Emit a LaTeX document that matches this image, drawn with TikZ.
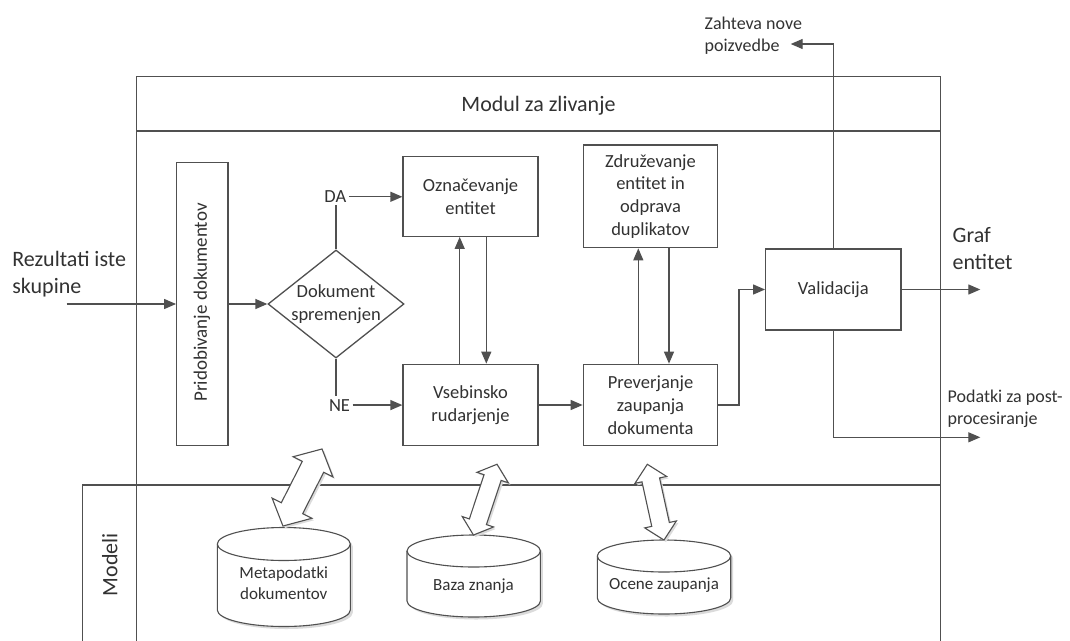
\documentclass[tikz,border=0pt]{standalone}
\usepackage{fontspec}
\setmainfont{Carlito}
\usetikzlibrary{arrows.meta,shapes.geometric,calc}
\definecolor{ln}{RGB}{80,80,80}
\definecolor{tx}{RGB}{50,50,50}
\newcommand\fsA{\fontsize{22}{27}\selectfont}
\newcommand\fsB{\fontsize{18.5}{22.7}\selectfont}
\newcommand\fsC{\fontsize{17}{20.5}\selectfont}
\newcommand\fsD{\fontsize{18}{22}\selectfont}
\newcommand\fsP{\fontsize{19}{23}\selectfont}
% block double arrow: x, y, angle, half length, half head width, half shaft width, head length
\newcommand\dblarr[7]{%
  \begin{scope}[shift={(#1+2,#2+2)}, rotate=#3]
    \fill[black!14] (-#4,0) -- (-#4+#7,#5) -- (-#4+#7,#6) -- (#4-#7,#6) -- (#4-#7,#5) -- (#4,0) -- (#4-#7,-#5) -- (#4-#7,-#6) -- (-#4+#7,-#6) -- (-#4+#7,-#5) -- cycle;
  \end{scope}
  \begin{scope}[shift={(#1,#2)}, rotate=#3]
    \draw[fill=white, line width=1.1pt, line join=miter] (-#4,0) -- (-#4+#7,#5) -- (-#4+#7,#6) -- (#4-#7,#6) -- (#4-#7,#5) -- (#4,0) -- (#4-#7,-#5) -- (#4-#7,-#6) -- (-#4+#7,-#6) -- (-#4+#7,-#5) -- cycle;
  \end{scope}}
% cylinder: cx, top ellipse centre y, bottom ellipse centre y, rx, ry
\newcommand\cylndr[5]{%
  \fill[black!14] (#1-#4+2.5,#2+2.5) -- (#1-#4+2.5,#3+2.5) arc (180:360:#4pt and #5pt) -- (#1+#4+2.5,#2+2.5) arc (0:180:#4pt and #5pt) -- cycle;
  \draw[fill=white, line width=1.1pt] (#1-#4,#2) -- (#1-#4,#3) arc (180:360:#4pt and #5pt) -- (#1+#4,#2) arc (0:180:#4pt and #5pt) -- cycle;
  \draw[line width=1.1pt] (#1-#4,#2) arc (180:360:#4pt and #5pt);}
\begin{document}
\begin{tikzpicture}[x=1pt,y=-1pt,line width=1.3pt,color=ln,text=tx,
  box/.style={draw, rectangle, fill=white, inner sep=0pt, align=center, font=\fsB},
  arr/.style={-{Triangle[length=12pt,width=10pt]}}]
\useasboundingbox[fill=white] (0,0) rectangle (1070,640);

% swimlane frames
\draw (136.7,641) -- (136.7,76.7) -- (940.3,76.7) -- (940.3,641);
\draw (136.7,131) -- (940.3,131);
\draw (82.7,641) -- (82.7,485) -- (940.3,485);
\node[font=\fsA, anchor=base, inner sep=0pt] (modul) at (538.5,111) {Modul za zlivanje};
\node[font=\fsA, rotate=90, inner sep=0pt] (modeli) at (109.7,564.5) {Modeli};

% process nodes
\node[box, minimum width=51.3pt, minimum height=283.4pt] (pri) at (202.35,304) {};
\node[font=\fsP, rotate=90, inner sep=0pt] (pritxt) at (202,302.5) {Pridobivanje dokumentov};
\node[diamond, draw, fill=white, minimum width=136pt, minimum height=108pt, inner sep=0pt] (dec) at (336,304) {};
\node[font=\fsB, align=center, inner sep=0pt] (dectxt) at (336,304) {Dokument\\spremenjen};
\node[box, minimum width=135pt, minimum height=79.6pt] (ozn) at (470.5,196.5) {Označevanje\\entitet};
\node[box, minimum width=135pt, minimum height=81.4pt] (vse) at (470.5,405) {Vsebinsko\\rudarjenje};
\node[box, minimum width=134.4pt, minimum height=102.7pt] (zdr) at (650.5,196.35) {Združevanje\\entitet in\\odprava\\duplikatov};
\node[box, minimum width=134.4pt, minimum height=81.4pt] (pre) at (650.5,405) {Preverjanje\\zaupanja\\dokumenta};
\node[box, minimum width=135.3pt, minimum height=81pt] (val) at (833.35,289.5) {Validacija};

\node[font=\fsB, inner sep=2pt, anchor=base] (da) at (335.3,202.7) {DA};
\node[font=\fsB, inner sep=2pt, anchor=base] (ne) at (339.5,411) {NE};

% outside labels
\node[font=\fsA, align=left, inner sep=0pt, anchor=west] (rez) at (11.7,274.5) {Rezultati iste\\skupine};
\node[font=\fsA, align=left, inner sep=0pt, anchor=west] (graf) at (952,248.3) {Graf\\entitet};
\node[font=\fsD, align=left, inner sep=0pt, anchor=west] (zah) at (704,35.5) {Zahteva nove\\poizvedbe};
\node[font=\fsD, align=left, inner sep=0pt, anchor=west] (pod) at (947,408.4) {Podatki za post-\\procesiranje};

% connectors
\coordinate (inp) at (66.7,304);
\draw[arr] (inp) -- (pri.west);
\draw[arr] (pri.east) -- (dec.west);
\draw (dec.north) -- (dec.north |- da.south);
\draw[arr] (da.east) -- (da.east -| ozn.west);
\draw (dec.south) -- (dec.south |- ne.north);
\draw[arr] (ne.east) -- (ne.east -| vse.west);
\draw[arr] ([xshift=-10.8pt]vse.north) -- ([xshift=-10.8pt]ozn.south);
\draw[arr] ([xshift=15.8pt]ozn.south) -- ([xshift=15.8pt]vse.north);
\draw[arr] (vse.east) -- (pre.west);
\draw[arr] ([xshift=-12.2pt]pre.north) -- ([xshift=-12.2pt]zdr.south);
\draw[arr] ([xshift=18.5pt]zdr.south) -- ([xshift=18.5pt]pre.north);
\draw[arr] (pre.east) -- ++(20.6,0) |- (val.west);
\coordinate (grafend) at (980.3,289.5);
\draw[arr] (val.east) -- (grafend);
\coordinate (zahend) at (790.7,44);
\draw[arr] (val.north) |- (zahend);
\coordinate (podend) at (980.3,437.3);
\draw[arr] (val.south) |- (podend);

% data stores
\cylndr{283.8}{544}{610}{66.5}{16.5}
\cylndr{473.7}{551}{601}{66.7}{16}
\cylndr{664}{556}{598}{66.7}{16}
\node[font=\fsC, align=center, inner sep=0pt] (meta) at (283.8,583.3) {Metapodatki\\dokumentov};
\node[font=\fsC, inner sep=0pt, anchor=base] (baza) at (473.5,590) {Baza znanja};
\node[font=\fsC, inner sep=0pt, anchor=base] (ocene) at (664,589.5) {Ocene zaupanja};

% block double arrows
\dblarr{302.5}{487.5}{63.1}{43.2}{22.3}{12}{20}
\dblarr{485.25}{499.65}{71.6}{37.3}{16.5}{9}{14}
\dblarr{655.65}{502.15}{102.4}{38.8}{16.2}{9}{16}
\end{tikzpicture}
\end{document}
